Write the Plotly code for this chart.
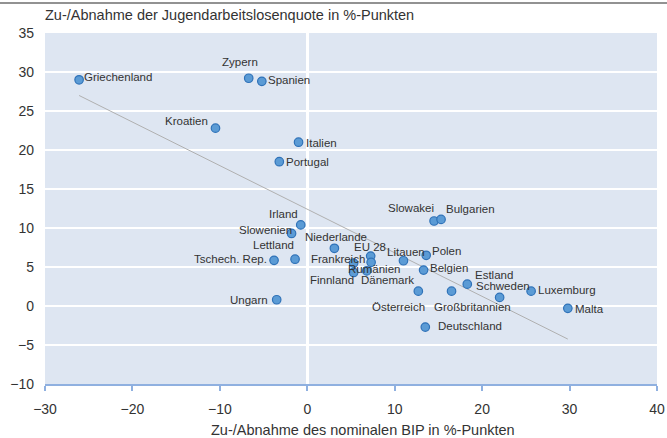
import numpy as np
import plotly.graph_objects as go

# ---- data ----
countries = ["Griechenland", "Zypern", "Spanien", "Kroatien", "Italien", "Portugal",
             "Irland", "Slowenien", "Niederlande", "Lettland", "Tschech. Rep.", "Ungarn",
             "EU 28", "Frankreich", "Rumänien", "Finnland", "Dänemark",
             "Litauen", "Polen", "Slowakei", "Bulgarien", "Belgien",
             "Österreich", "Großbritannien", "Deutschland", "Estland", "Schweden",
             "Luxemburg", "Malta"]
gdp_change = [-26.1, -6.7, -5.2, -10.5, -1.0, -3.2,
              -0.75, -1.8, 3.1, -1.4, -3.8, -3.5,
              7.25, 7.3, 5.3, 5.3, 6.8,
              11.0, 13.6, 14.5, 15.3, 13.3,
              12.7, 16.5, 13.5, 18.3, 22.0,
              25.6, 29.8]
youth_unemp_change = [29.0, 29.2, 28.8, 22.8, 21.0, 18.5,
                      10.4, 9.3, 7.4, 6.0, 5.85, 0.8,
                      6.4, 5.6, 5.5, 4.3, 4.5,
                      5.8, 6.5, 10.9, 11.1, 4.6,
                      1.9, 1.9, -2.7, 2.8, 1.1,
                      1.9, -0.3]
x_ticks = [-30, -20, -10, 0, 10, 20, 30, 40]
y_ticks = [-10, -5, 0, 5, 10, 15, 20, 25, 30, 35]
title_y = "Zu-/Abnahme der Jugendarbeitslosenquote in %-Punkten"
title_x = "Zu-/Abnahme des nominalen BIP in %-Punkten"

# ---- label placement styles (anchor, x shift px, y shift px screen-down) ----
label_style = {
    "Griechenland": ("left", 5, -3), "Zypern": ("center", -9, -16), "Spanien": ("left", 6, -1),
    "Kroatien": ("right", -7, -7), "Italien": ("left", 7, 1), "Portugal": ("left", 6.5, 0),
    "Irland": ("right", -2.5, -11), "Slowenien": ("right", 0.5, -3), "Niederlande": ("center", 2, -11.5),
    "Lettland": ("right", -1.5, -14), "Tschech. Rep.": ("right", -7, -1), "Ungarn": ("right", -8.5, 0),
    "EU 28": ("center", -1, -9.5), "Frankreich": ("right", -6, -3), "Rumänien": ("left", -6, 6),
    "Finnland": ("right", 0, 7.5), "Dänemark": ("left", -5.5, 9.5),
    "Litauen": ("center", 2.5, -9), "Polen": ("left", 5.5, -4), "Slowakei": ("right", 0, -12.5),
    "Bulgarien": ("left", 4.5, -10.5), "Belgien": ("left", 6.5, -2.5),
    "Österreich": ("right", 6.5, 15.7), "Großbritannien": ("center", 21, 15.7),
    "Deutschland": ("left", 12.5, -1.5), "Estland": ("left", 7.5, -9), "Schweden": ("center", 3.5, -11.3),
    "Luxemburg": ("left", 7, -1.5), "Malta": ("left", 7.5, 1),
}

FONT = "Liberation Sans, Arial, sans-serif"
TXT = "#333333"

xs = np.array(gdp_change)
ys = np.array(youth_unemp_change)
b, a = np.polyfit(xs, ys, 1)
trend_x = [xs.min(), xs.max()]
trend_y = [a + b * v for v in trend_x]

fig = go.Figure()
fig.add_trace(go.Scatter(x=trend_x, y=trend_y, mode="lines",
                         line=dict(color="#b0b0b0", width=1), hoverinfo="skip"))
fig.add_trace(go.Scatter(x=gdp_change, y=youth_unemp_change, mode="markers",
                         text=countries,
                         marker=dict(size=8.5, color="#5b9bd5",
                                     line=dict(color="#2f72b8", width=1.2))))

annotations = []
for name, xv, yv in zip(countries, gdp_change, youth_unemp_change):
    anc, dx, dy = label_style[name]
    annotations.append(dict(x=xv, y=yv, xref="x", yref="y", text=name, showarrow=False,
                            xanchor=anc, yanchor="middle", xshift=dx, yshift=-dy,
                            borderpad=0, borderwidth=0,
                            font=dict(family=FONT, size=11.5, color=TXT)))
# titles
annotations.append(dict(x=-0.0016, y=1.0513, xref="paper", yref="paper", text=title_y,
                        showarrow=False, xanchor="left", yanchor="middle", borderpad=0,
                        font=dict(family=FONT, size=14.5, color=TXT)))
annotations.append(dict(x=0.52, y=-0.131, xref="paper", yref="paper", text=title_x,
                        showarrow=False, xanchor="center", yanchor="middle", borderpad=0,
                        font=dict(family=FONT, size=14.5, color=TXT)))

fig.update_layout(
    width=667, height=438, autosize=False,
    margin=dict(l=45, r=10, t=33, b=54, autoexpand=False),
    paper_bgcolor="white", plot_bgcolor="#dee6f2",
    showlegend=False,
    font=dict(family=FONT, color=TXT, size=14),
    annotations=annotations,
    shapes=[dict(type="line", xref="paper", yref="paper", x0=-0.08, x1=1.02,
                 y0=1.0855, y1=1.0855, line=dict(color="#6e6e6e", width=1.5))],
)
fig.update_xaxes(range=[-30, 40], tickvals=x_ticks, showgrid=False,
                 zeroline=True, zerolinecolor="white", zerolinewidth=3,
                 showline=True, linecolor="#8fb0e0", linewidth=1.5,
                 ticks="outside", ticklen=5, tickwidth=1.5, tickcolor="#8fb0e0",
                 ticklabelstandoff=6, automargin=False,
                 tickfont=dict(family=FONT, size=14, color=TXT))
fig.update_yaxes(range=[-10, 35], tickvals=y_ticks, showgrid=True, gridcolor="white",
                 gridwidth=2, zeroline=False, showline=False, ticks="",
                 ticklabelstandoff=10, automargin=False,
                 tickfont=dict(family=FONT, size=14, color=TXT))

fig.write_html("out.html", config={"displayModeBar": False, "responsive": False},
               default_width="667px", default_height="438px",
               post_script="document.body.style.margin='0';document.body.style.overflow='hidden';"
                           "Plotly.relayout(document.getElementById('{plot_id}'), {width: 667, height: 438});")
